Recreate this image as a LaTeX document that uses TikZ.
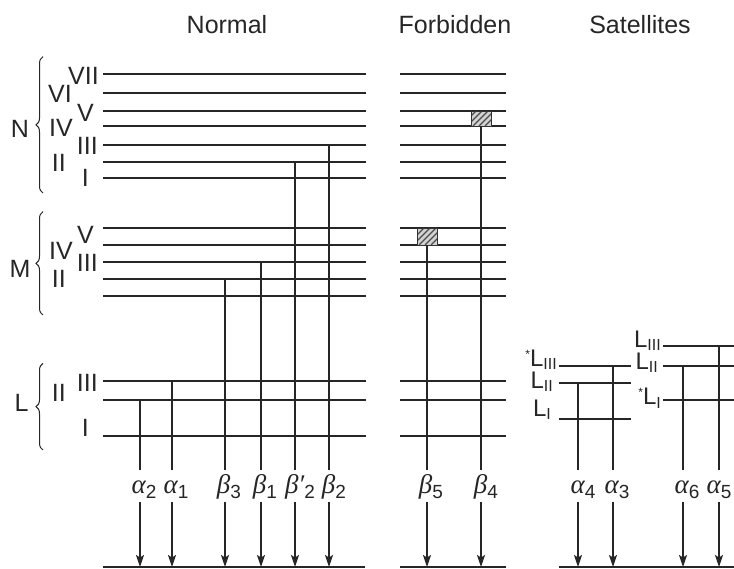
\documentclass[tikz,border=0pt]{standalone}
\usepackage{fontspec}
\setmainfont{Liberation Sans}
\newfontfamily\grkfont{Liberation Serif}
\usetikzlibrary{arrows.meta,decorations.pathreplacing}
\newcommand{\grklab}[2]{{\fontsize{27}{27}\selectfont\grkfont\itshape #1}\raisebox{-5pt}{\fontsize{19}{19}\selectfont #2}}
\newcommand{\Lsub}[1]{L\raisebox{-3pt}{\fontsize{16}{16}\selectfont #1}}
\newcommand{\astk}{\raisebox{8pt}{\fontsize{12}{12}\selectfont *}}
\begin{document}
\begin{tikzpicture}[x=1pt,y=-1pt,
  ink/.style={black!85},
  lvl/.style={ink,line width=1.8pt},
  vline/.style={ink,line width=1.5pt},
  arr/.style={ink,line width=1.5pt,-{Stealth[length=12pt,width=8pt,inset=2.5pt]}},
  txt/.style={ink,inner sep=0pt,font=\fontsize{25}{25}\selectfont},
  rn/.style={txt,anchor=base east},
  glab/.style={ink,inner sep=0pt,anchor=base},
  slab/.style={ink,inner sep=0pt,anchor=base east,font=\fontsize{24}{24}\selectfont},
  brc/.style={ink,line width=1pt,decorate,decoration={brace,amplitude=7pt}},
  hbox/.style={draw=black!80,line width=0.9pt,fill=gray!35}]
\useasboundingbox (0,0) rectangle (734,569);

% titles
\node[txt,anchor=base] (tN) at (227,34) {Normal};
\node[txt,anchor=base] (tF) at (455,34) {Forbidden};
\node[txt,anchor=base] (tS) at (640,34) {Satellites};

% shell letters and braces
\node[txt,anchor=base] (sN) at (20,137.5) {N};
\node[txt,anchor=base] (sM) at (20,278) {M};
\node[txt,anchor=base] (sL) at (21.5,411.7) {L};
\draw[brc] (43,193) -- (43,56.7);
\draw[brc] (43,315) -- (43,211.7);
\draw[brc] (43,450) -- (43,363.3);

% roman numerals
\node[rn] (nVII) at (99,85) {VII};
\node[rn] (nVI) at (72,103) {VI};
\node[rn] (nV) at (94,121.7) {V};
\node[rn] (nIV) at (73,136.7) {IV};
\node[rn] (nIII) at (98,155) {III};
\node[rn] (nII) at (66,171.7) {II};
\node[rn] (nI) at (89,186.7) {I};
\node[rn] (mV) at (94,243.3) {V};
\node[rn] (mIV) at (73,260) {IV};
\node[rn] (mIII) at (98,271.7) {III};
\node[rn] (mII) at (66,288) {II};
\node[rn] (lIII) at (98,391.7) {III};
\node[rn] (lII) at (66,401.7) {II};
\node[rn] (lI) at (89,436.7) {I};

% levels: normal and forbidden
\foreach \y in {74,93,111,126,145,162,178,228,245,262,279,296,381,400,436} {
  \draw[lvl] (103,\y) -- (366,\y);
  \draw[lvl] (400,\y) -- (506,\y);
}

% hatched boxes (forbidden)
\draw[hbox] (471,111) rectangle (491,126);
\begin{scope}
  \clip (471,111) rectangle (491,126);
  \foreach \d in {-10,-4,2,8,14} \draw[black!70,line width=1.3pt] (471+\d,126) -- (471+\d+15,111);
\end{scope}
\draw[black!80,line width=0.9pt] (471,111) rectangle (491,126);
\draw[hbox] (417,228) rectangle (437,245);
\begin{scope}
  \clip (417,228) rectangle (437,245);
  \foreach \d in {-10,-4,2,8,14} \draw[black!70,line width=1.3pt] (417+\d,245) -- (417+\d+17,228);
\end{scope}
\draw[black!80,line width=0.9pt] (417,228) rectangle (437,245);

% satellite levels
\foreach \y in {366,383,419} \draw[lvl] (559,\y) -- (631,\y);
\foreach \y in {346,366,400} \draw[lvl] (663,\y) -- (734,\y);
\node[slab] (sLIIIa) at (557,366.5) {\astk\Lsub{III}};
\node[slab] (sLIIa) at (553,388.3) {\Lsub{II}};
\node[slab] (sLIa) at (551,416.7) {\Lsub{I}};
\node[slab] (sLIIIb) at (661,348) {\Lsub{III}};
\node[slab] (sLIIb) at (658,370) {\Lsub{II}};
\node[slab] (sLIb) at (661,405) {\astk\Lsub{I}};

% transitions: vertical lines and arrows
\foreach \n/\x/\ys in {a2/140/400, a1/172/381, b3/225/279, b1/261/262, bp2/295/162, b2/329/145,
                       b5/427/245, b4/481/126, a4/578/383, a3/613/366, a6/683/366, a5/719/346} {
  \coordinate (\n top) at (\x,\ys);
  \coordinate (\n mid) at (\x,470);
  \coordinate (\n as) at (\x,502);
  \coordinate (\n ae) at (\x,567);
  \draw[vline] (\n top) -- (\n mid);
  \draw[arr] (\n as) -- (\n ae);
}

% labels
\node[glab] (La2) at (144,493) {\grklab{α}{2}};
\node[glab] (La1) at (176,493) {\grklab{α}{1}};
\node[glab] (Lb3) at (229,493) {\grklab{β}{3}};
\node[glab] (Lb1) at (265,493) {\grklab{β}{1}};
\node[glab] (Lbp2) at (300,493) {\grklab{β′}{2}};
\node[glab] (Lb2) at (334,493) {\grklab{β}{2}};
\node[glab] (Lb5) at (431,493) {\grklab{β}{5}};
\node[glab] (Lb4) at (486,493) {\grklab{β}{4}};
\node[glab] (La4) at (583,493) {\grklab{α}{4}};
\node[glab] (La3) at (617,493) {\grklab{α}{3}};
\node[glab] (La6) at (687,493) {\grklab{α}{6}};
\node[glab] (La5) at (719,493) {\grklab{α}{5}};

% baselines
\draw[lvl] (103,567) -- (365,567);
\draw[lvl] (400,567) -- (506,567);
\draw[lvl] (559,567) -- (734,567);
\end{tikzpicture}
\end{document}
